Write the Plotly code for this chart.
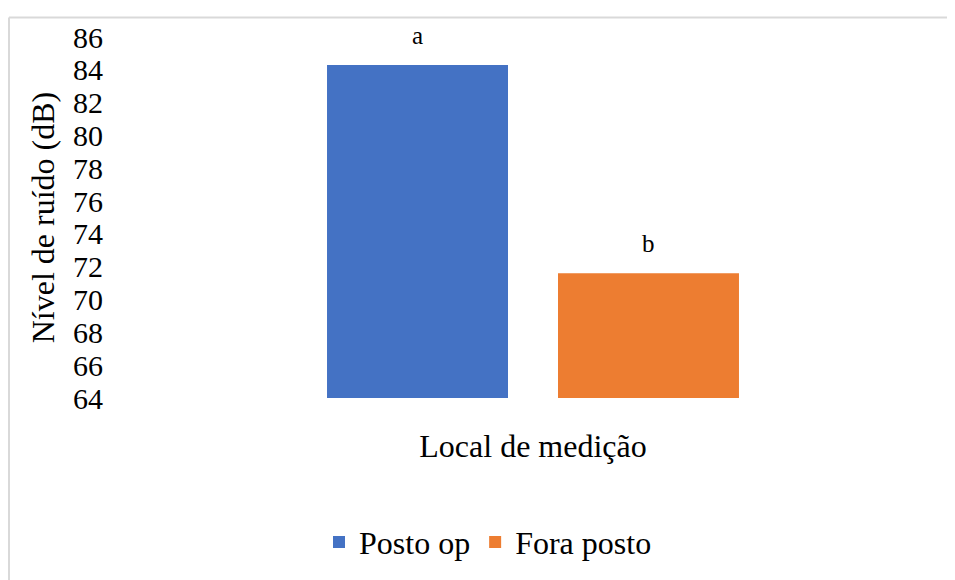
import plotly.graph_objects as go

category = ["Local de medição"]
series_names = ["Posto op", "Fora posto"]
series_values = [84.3, 71.6]
series_letters = ["a", "b"]
series_colors = ["#4472C4", "#ED7D31"]
y_ticks = list(range(64, 87, 2))

W, H = 955, 580
ML, MR, MT, MB = 110, 15, 22, 190
bargap = 0.4434
bargroupgap = 0.2165
FONT = "'Liberation Serif', 'Times New Roman', serif"

plot_w = W - ML - MR
plot_h = H - MT - MB


def px_x(xf):
    return (xf - ML) / plot_w


def px_y(yf):
    return 1 - (yf - MT) / plot_h


fig = go.Figure()
for name, val, col in zip(series_names, series_values, series_colors):
    fig.add_trace(go.Bar(x=category, y=[val], name=name, marker=dict(color=col, line=dict(width=0))))

slot = (1 - bargap) * plot_w / 2
n = len(series_names)
for i, (val, letter) in enumerate(zip(series_values, series_letters)):
    shift = (i - (n - 1) / 2) * slot
    fig.add_annotation(x=category[0], y=val, xref="x", yref="y", text=letter,
                       showarrow=False, xshift=shift, yshift=14, yanchor="bottom",
                       font=dict(family=FONT, size=25, color="black"))

# chart-area border (top and left visible in the reference)
fig.add_shape(type="line", xref="paper", yref="paper",
              x0=px_x(1), x1=px_x(W + 5), y0=px_y(2), y1=px_y(2),
              line=dict(color="#D9D9D9", width=2))
fig.add_shape(type="line", xref="paper", yref="paper",
              x0=px_x(1), x1=px_x(1), y0=px_y(2), y1=px_y(H + 5),
              line=dict(color="#D9D9D9", width=2))

fig.update_layout(
    width=W, height=H,
    margin=dict(l=ML, r=MR, t=MT, b=MB),
    paper_bgcolor="white", plot_bgcolor="white",
    barmode="group", bargap=bargap, bargroupgap=bargroupgap,
    font=dict(family=FONT, color="black"),
    showlegend=True,
    legend=dict(orientation="h", x=px_x(480), xanchor="center",
                y=px_y(537), yanchor="middle", font=dict(family=FONT, size=32, color="black"),
                bgcolor="rgba(0,0,0,0)"),
    xaxis=dict(showticklabels=False, showline=False, showgrid=False, zeroline=False, ticks="",
               title=dict(text="Local de medição", font=dict(family=FONT, size=32, color="black"), standoff=36)),
    yaxis=dict(range=[64, 86], tickvals=y_ticks, ticktext=[str(v) for v in y_ticks],
               showline=False, showgrid=False, zeroline=False, ticks="",
               tickfont=dict(family=FONT, size=30, color="black"), ticklabelstandoff=14,
               title=dict(text="Nível de ruído (dB)", font=dict(family=FONT, size=32, color="black"), standoff=8)),
)

fig.write_html("out.html")
